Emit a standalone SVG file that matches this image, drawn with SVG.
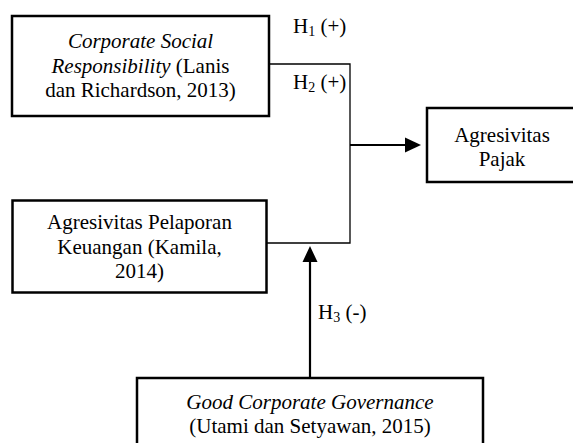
<svg xmlns="http://www.w3.org/2000/svg" width="573" height="443" viewBox="0 0 573 443" font-family="'Liberation Serif', 'Times New Roman', Times, 'DejaVu Serif', serif">
<style>
.box{fill:#fff;stroke:#000;stroke-width:2.5}
text{font-family:'Liberation Serif','Times New Roman',Times,'DejaVu Serif',serif;font-size:21px;fill:#000}
.t{text-anchor:middle}
.i{font-style:italic}
.thin{stroke:#000;stroke-width:1.3;fill:none}
.thick{stroke:#000;stroke-width:2.2;fill:none}
</style>
<g id="connectors">
<polyline class="thin" points="269,64 350,64 350,243 266,243"/>
<line class="thick" x1="350" y1="145" x2="406" y2="145"/>
<polygon points="405,137.5 421,145 405,152.5" fill="#000"/>
<line class="thick" x1="310" y1="378" x2="310" y2="261"/>
<polygon points="302.5,262 310,246 317.5,262" fill="#000"/>
<text x="293" y="33">H<tspan font-size="14" dy="3">1</tspan><tspan dy="-3"> (+)</tspan></text>
<text x="293" y="89">H<tspan font-size="14" dy="3">2</tspan><tspan dy="-3"> (+)</tspan></text>
<text x="318" y="319">H<tspan font-size="14" dy="3">3</tspan><tspan dy="-3"> (-)</tspan></text>
</g>
<g id="csr">
<rect class="box" x="12" y="16" width="257" height="100"/>
<text class="t" x="140.5" y="48"><tspan class="i">Corporate Social</tspan></text>
<text class="t" x="140.5" y="73"><tspan class="i">Responsibility</tspan> (Lanis</text>
<text class="t" x="140.5" y="97">dan Richardson, 2013)</text>
</g>
<g id="apl">
<rect class="box" x="12.5" y="200.5" width="254" height="92"/>
<text class="t" x="139.5" y="229">Agresivitas Pelaporan</text>
<text class="t" x="139.5" y="254">Keuangan (Kamila,</text>
<text class="t" x="139.5" y="278">2014)</text>
</g>
<g id="ap">
<rect class="box" x="427" y="108" width="150" height="74"/>
<text class="t" x="502" y="141.5">Agresivitas</text>
<text class="t" x="502" y="165.5">Pajak</text>
</g>
<g id="gcg">
<rect class="box" x="137" y="378" width="346" height="75"/>
<text class="t" x="310" y="409"><tspan class="i">Good Corporate Governance</tspan></text>
<text class="t" x="310" y="433">(Utami dan Setyawan, 2015)</text>
</g>
</svg>
